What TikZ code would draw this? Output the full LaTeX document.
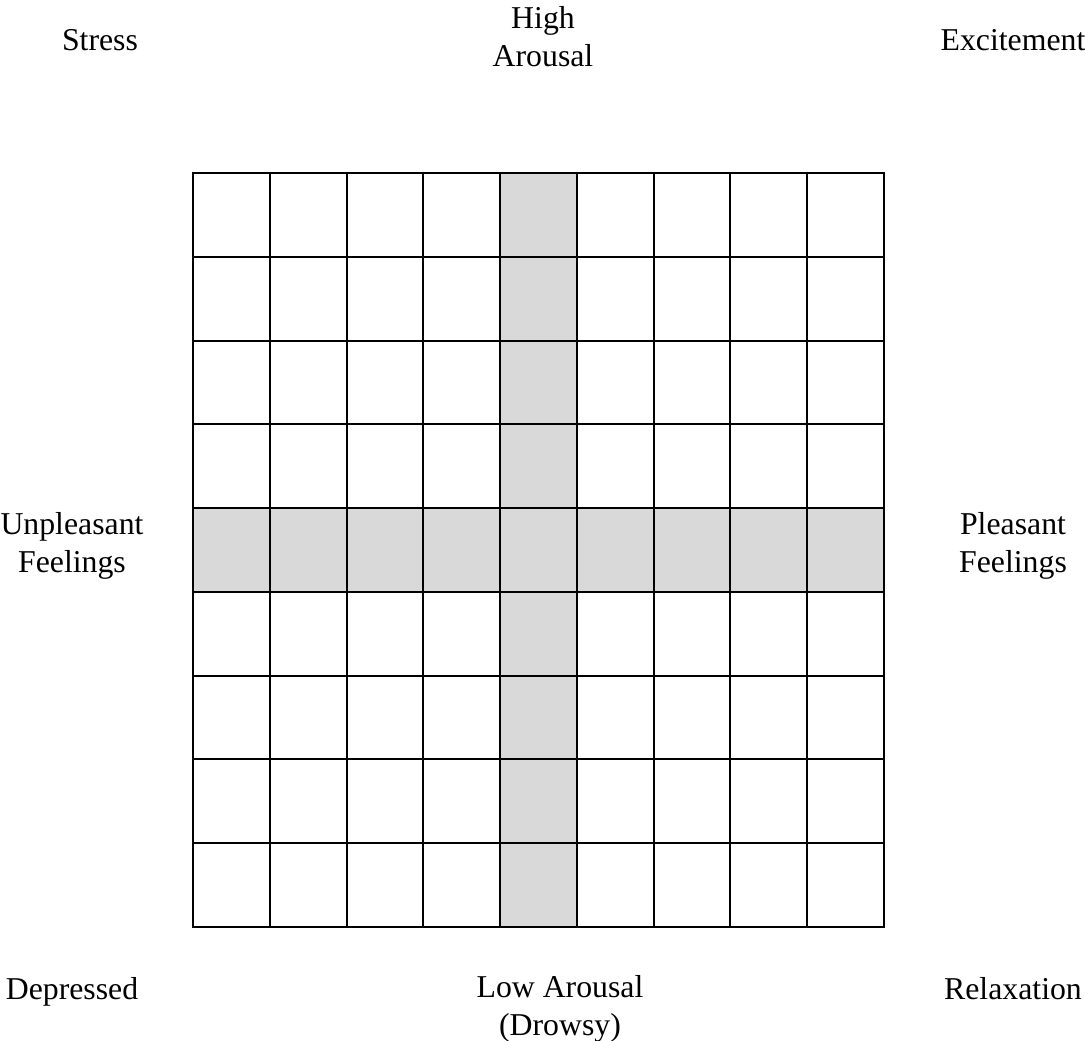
\documentclass[tikz,border=0pt]{standalone}
\usepackage{fontspec}
\setmainfont{Liberation Serif}
\usepackage{tikz}
\usetikzlibrary{positioning}
\definecolor{bandgray}{HTML}{D9D9D9}

\begin{document}
\begin{tikzpicture}[
  x=0.025cm, y=-0.025cm,
  lbl/.style={align=center, inner sep=0pt, anchor=base, font=\fontsize{22.6}{26.5}\selectfont},
  gridline/.style={line width=1.4pt, line cap=rect}
]
\useasboundingbox (0,0) rectangle (1085,1040);

% shaded cross
\fill[bandgray] (501,173) rectangle (578,927);
\fill[bandgray] (193,508) rectangle (884,592);

% cell borders
\foreach \i in {0,...,9} {
  \draw[gridline] ({193+\i*76.78},173) -- ({193+\i*76.78},927);
  \draw[gridline] (193,{173+\i*83.78}) -- (884,{173+\i*83.78});
}

% corner and axis labels (base = last line)
\node[lbl] (stress) at (100,50) {Stress};
\node[lbl] (excite) at (1013,50) {Excitement};
\node[lbl] (high) at (543,66) {High\\Arousal};
\node[lbl] (unpleas) at (72,572) {Unpleasant\\Feelings};
\node[lbl] (pleas) at (1013,572) {Pleasant\\Feelings};
\node[lbl] (depr) at (72,999) {Depressed};
\node[lbl] (relax) at (1013,999) {Relaxation};
\node[lbl] (low) at (560,1035) {Low Arousal\\(Drowsy)};
\end{tikzpicture}
\end{document}
